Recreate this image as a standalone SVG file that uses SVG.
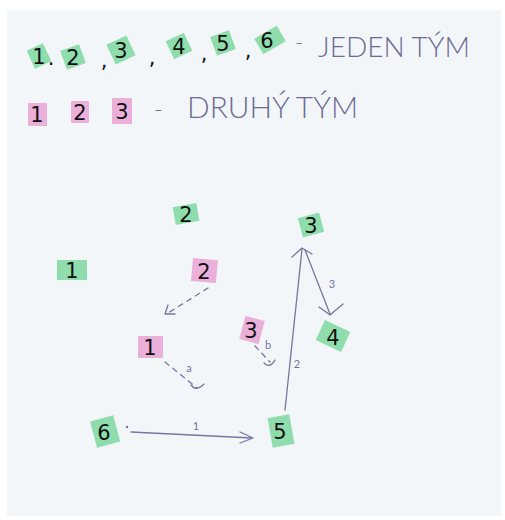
<svg xmlns="http://www.w3.org/2000/svg" width="505" height="520" viewBox="0 0 505 520">
<defs>
<style>
.g{fill:#84daa4;opacity:.9}
.p{fill:#e9a9d6;opacity:.9}
.d{font-family:"DejaVu Sans","Liberation Sans",sans-serif;font-size:21px;fill:#111;text-anchor:middle}
.h{font-family:Lato,"Open Sans",sans-serif;font-weight:300;fill:#6c6b92}
.e{fill:none;stroke:#7477a0;stroke-width:1.3;stroke-linecap:round;stroke-linejoin:round}
.dash{stroke-dasharray:5 5}
.lb{font-family:Lato,"Open Sans",sans-serif;font-size:11px;fill:#7477a0;text-anchor:middle}
</style>
</defs>
<rect width="505" height="520" fill="#ffffff"/>
<rect x="7" y="10" width="494" height="506" fill="#f3f6f9"/>

<g id="legend-team1">
<rect class="g" x="30" y="46" width="18" height="20" transform="rotate(-25 39 56)"/>
<text class="d" x="39" y="64">1</text><text class="d" x="51" y="65" font-size="14">.</text>
<rect class="g" x="63" y="47" width="20" height="20" transform="rotate(-20 73 57)"/>
<text class="d" x="73" y="65">2</text>
<text class="d" x="104" y="68">,</text>
<rect class="g" x="110" y="39" width="22" height="22" transform="rotate(-25 121 50)"/>
<text class="d" x="121" y="58">3</text>
<text class="d" x="152" y="65">,</text>
<rect class="g" x="169" y="36" width="20" height="20" transform="rotate(-25 179 46)"/>
<text class="d" x="179" y="54">4</text>
<text class="d" x="204" y="61">,</text>
<rect class="g" x="213" y="33" width="20" height="20" transform="rotate(-20 223 43)"/>
<text class="d" x="223" y="51">5</text>
<text class="d" x="248" y="58">,</text>
<rect class="g" x="257" y="31" width="26" height="18" transform="rotate(-30 270 40)"/>
<text class="d" x="267" y="48">6</text>
<text class="h" x="295" y="50" font-size="22">-</text>
<text class="h" x="318" y="57" font-size="27" textLength="152" lengthAdjust="spacingAndGlyphs">JEDEN TÝM</text>
</g>

<g id="legend-team2">
<rect class="p" x="28" y="103" width="19" height="23"/>
<text class="d" x="37" y="122">1</text>
<rect class="p" x="71" y="101" width="18" height="22"/>
<text class="d" x="80" y="120">2</text>
<rect class="p" x="112" y="98" width="20" height="26"/>
<text class="d" x="122" y="119">3</text>
<text class="h" x="154" y="118" font-size="24">-</text>
<text class="h" x="187" y="118" font-size="30" textLength="171" lengthAdjust="spacingAndGlyphs">DRUHÝ TÝM</text>
</g>

<g id="connectors">
<path class="e dash" d="M208,288 L168,313"/>
<path class="e" d="M168,305 L165,314 L175,314"/>
<path class="e dash" d="M165,362 L197,388"/>
<path class="e" d="M191,385 Q196,392 204,384"/>
<text class="lb" x="189" y="372">a</text>
<path class="e dash" d="M255,346 L270,362"/>
<path class="e" d="M264,363 Q270,369 275,360"/>
<text class="lb" x="268" y="349" font-size="9">b</text>
<path class="e" d="M285,410 L302,249"/>
<path class="e" d="M292,257 L302,248 L312,254"/>
<text class="lb" x="297" y="368">2</text>
<path class="e" d="M305,250 L330,314"/>
<path class="e" d="M319,307 L330,315 L343,304"/>
<text class="lb" x="332" y="288">3</text>
<circle cx="127" cy="427" r="1.2" fill="#7477a0"/>
<path class="e" d="M131,432 L252,438"/>
<path class="e" d="M240,432 L253,438 L240,443"/>
<text class="lb" x="196" y="430">1</text>
</g>

<g id="node-green-2"><rect class="g" x="174" y="205" width="24" height="18" transform="rotate(-10 186 214)"/><text class="d" x="186" y="222">2</text></g>
<g id="node-green-1"><rect class="g" x="57" y="260" width="30" height="20"/><text class="d" x="72" y="278">1</text></g>
<g id="node-pink-2"><rect class="p" x="192" y="259" width="25" height="23" transform="rotate(5 204 270)"/><text class="d" x="204" y="279">2</text></g>
<g id="node-pink-1"><rect class="p" x="138" y="336" width="25" height="22"/><text class="d" x="150" y="355">1</text></g>
<g id="node-pink-3"><rect class="p" x="242" y="318" width="20" height="24" transform="rotate(15 252 330)"/><text class="d" x="251" y="338">3</text></g>
<g id="node-green-3"><rect class="g" x="300" y="215" width="22" height="20" transform="rotate(-15 311 225)"/><text class="d" x="311" y="233">3</text></g>
<g id="node-green-4"><rect class="g" x="319" y="325" width="28" height="22" transform="rotate(25 333 336)"/><text class="d" x="333" y="345">4</text></g>
<g id="node-green-5"><rect class="g" x="270" y="416" width="22" height="30" transform="rotate(-10 281 431)"/><text class="d" x="280" y="439">5</text></g>
<g id="node-green-6"><rect class="g" x="93" y="418" width="24" height="27" transform="rotate(-15 105 431)"/><text class="d" x="104" y="440">6</text></g>
</svg>
